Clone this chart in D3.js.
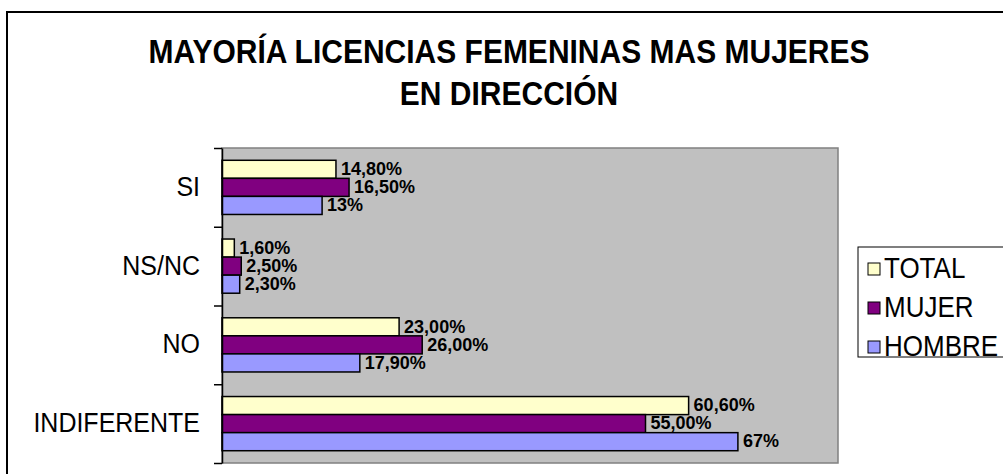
<!DOCTYPE html>
<html>
<head>
<meta charset="utf-8">
<script src="https://cdn.jsdelivr.net/npm/d3@7"></script>
<style>
  body { margin: 0; background: #fff; }
  svg { display: block; }
</style>
</head>
<body>
<svg id="area" width="1003" height="474"></svg>
<script>
const titleLines = ['MAYORÍA LICENCIAS FEMENINAS MAS MUJERES', 'EN DIRECCIÓN'];
const categories = ['SI', 'NS/NC', 'NO', 'INDIFERENTE'];
const seriesNames = ['TOTAL', 'MUJER', 'HOMBRE'];
const seriesColors = ['#FFFFCC', '#800080', '#9999FF'];
const totalValues = [14.8, 1.6, 23.0, 60.6];
const mujerValues = [16.5, 2.5, 26.0, 55.0];
const hombreValues = [13, 2.3, 17.9, 67];
const totalLabels = ['14,80%', '1,60%', '23,00%', '60,60%'];
const mujerLabels = ['16,50%', '2,50%', '26,00%', '55,00%'];
const hombreLabels = ['13%', '2,30%', '17,90%', '67%'];

const font = 'Arial, "Liberation Sans", sans-serif';
const svg = d3.select('#area');

const seriesValues = [totalValues, mujerValues, hombreValues];
const seriesLabels = [totalLabels, mujerLabels, hombreLabels];
const bars = [];
categories.forEach((c, i) => {
  seriesNames.forEach((s, j) => {
    bars.push({ cat: c, series: s, value: seriesValues[j][i], label: seriesLabels[j][i], color: seriesColors[j] });
  });
});

const plot = { left: 222, right: 838, top: 148, bottom: 463 };
const x = d3.scaleLinear([0, 80], [plot.left, plot.right]);
const y = d3.scaleBand(categories, [plot.top, plot.bottom]);
const inner = d3.scaleBand(seriesNames, [0, y.bandwidth()]).paddingInner(0).paddingOuter(0.68);

// text in the original is a bit taller than wide
const place = (px, py, s = 1.12) => `translate(${px},${py}) scale(1,${s})`;

// chart frame
svg.append('rect')
  .attr('x', 7).attr('y', 12)
  .attr('width', 1100).attr('height', 500)
  .attr('fill', '#fff')
  .attr('stroke', '#000')
  .attr('stroke-width', 2);

// title
svg.append('g').selectAll('text')
  .data(titleLines)
  .join('text')
  .attr('transform', (d, i) => place(509, 63 + i * 42))
  .attr('text-anchor', 'middle')
  .style('font', `bold 30px ${font}`)
  .text((d) => d);

// plot area
svg.append('rect')
  .attr('x', plot.left).attr('y', plot.top)
  .attr('width', plot.right - plot.left)
  .attr('height', plot.bottom - plot.top)
  .attr('fill', '#C0C0C0')
  .attr('stroke', '#808080')
  .attr('stroke-width', 1.5);

// bars
svg.append('g')
  .attr('stroke', '#000')
  .attr('stroke-width', 1.5)
  .selectAll('rect')
  .data(bars)
  .join('rect')
  .attr('x', x(0))
  .attr('y', (d) => y(d.cat) + inner(d.series))
  .attr('width', (d) => x(d.value) - x(0))
  .attr('height', inner.bandwidth())
  .attr('fill', (d) => d.color);

// value labels
svg.append('g').selectAll('text')
  .data(bars)
  .join('text')
  .attr('x', (d) => x(d.value) + 5)
  .attr('y', (d) => y(d.cat) + inner(d.series) + inner.bandwidth() / 2 + 1)
  .attr('dominant-baseline', 'middle')
  .style('font', `bold 18px ${font}`)
  .text((d) => d.label);

// category axis, ticks on the band edges
const edges = d3.scaleLinear([0, categories.length], [plot.top, plot.bottom]);
const axis = svg.append('g')
  .attr('transform', `translate(${plot.left},0)`)
  .call(d3.axisLeft(edges).ticks(categories.length).tickSize(8).tickSizeOuter(0).tickFormat(''));
axis.select('.domain').attr('stroke', '#000').attr('stroke-width', 1.5);
axis.selectAll('.tick line').attr('stroke', '#000').attr('stroke-width', 1.5);

// category labels
svg.append('g').selectAll('text')
  .data(categories)
  .join('text')
  .attr('transform', (d) => place(200, y(d) + y.bandwidth() / 2 + 1))
  .attr('text-anchor', 'end')
  .attr('dominant-baseline', 'middle')
  .style('font', `25px ${font}`)
  .text((d) => d);

// legend
const legend = svg.append('g');
legend.append('rect')
  .attr('x', 858).attr('y', 247)
  .attr('width', 200).attr('height', 110)
  .attr('fill', '#fff')
  .attr('stroke', '#000')
  .attr('stroke-width', 1);
const item = legend.selectAll('g')
  .data(seriesNames)
  .join('g')
  .attr('transform', (d, i) => `translate(868,${269 + i * 39})`);
item.append('rect')
  .attr('x', 0).attr('y', -6)
  .attr('width', 12).attr('height', 12)
  .attr('fill', (d, i) => seriesColors[i])
  .attr('stroke', '#000');
item.append('text')
  .attr('transform', place(16, 1))
  .attr('dominant-baseline', 'middle')
  .style('font', `26px ${font}`)
  .text((d) => d);
</script>
</body>
</html>
